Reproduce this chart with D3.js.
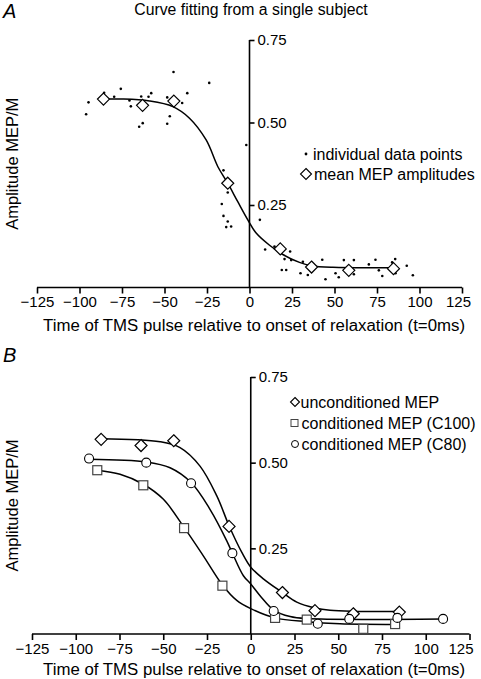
<!DOCTYPE html>
<html><head><meta charset="utf-8">
<script src="https://cdn.jsdelivr.net/npm/d3@7"></script>
<style>
html,body{margin:0;padding:0;background:#fff;}
svg{display:block;font-family:"Liberation Sans",Arial,sans-serif;}
</style></head>
<body>
<svg id="chart" width="481" height="679"></svg>
<script>
// ---------- DATA ----------
const xTicks = [-125,-100,-75,-50,-25,0,25,50,75,100,125];
const yTicks = [0.25,0.50,0.75];

// Panel A: individual data points [time, amplitude]
const pointsA = [
 [-94.7,0.561],[-96.1,0.525],[-85.5,0.590],[-79.6,0.578],[-75.7,0.602],[-70.6,0.567],
 [-69.8,0.549],[-63.7,0.579],[-59.4,0.578],[-57.8,0.589],[-62.8,0.498],[-64.9,0.487],
 [-48.4,0.576],[-48.4,0.496],[-46.9,0.519],[-44.7,0.653],[-39.6,0.559],[-36.6,0.589],
 [-23.7,0.620],[-1.9,0.432],[-15.3,0.355],[-12.8,0.288],[-16.3,0.253],[-15.3,0.217],
 [-12.8,0.200],[-13.7,0.183],[-10.8,0.185],[6.1,0.205],[9.2,0.115],[14.7,0.124],
 [23.9,0.109],[19.0,0.053],[21.6,0.053],[20.6,0.086],[24.5,0.083],[31.4,0.078],
 [30.0,0.043],[34.3,0.038],[42.8,0.084],[44.7,0.025],[50.6,0.043],[52.5,0.031],
 [55.5,0.083],[61.4,0.083],[61.4,0.040],[70.2,0.070],[74.1,0.084],[76.1,0.052],
 [78.1,0.035],[83.9,0.076],[85.7,0.086],[85.9,0.043],[92.5,0.066],[96.1,0.037]
];
// Panel A: mean MEP amplitudes
const meansA = [[-85.9,0.571],[-62.9,0.552],[-44.5,0.565],[-12.8,0.316],[18.1,0.117],[36.5,0.062],[58.4,0.052],[84.7,0.057]];
// Panel A: fitted curve
const curveA = [[-85.7,0.571],[-74.5,0.571],[-58.8,0.565],[-45.1,0.548],[-35.3,0.513],[-25.5,0.447],
 [-18.6,0.366],[-12.8,0.316],[-6.9,0.260],[-1.0,0.205],[3.9,0.165],[11.8,0.128],[19.6,0.100],
 [29.4,0.076],[36.3,0.066],[49.0,0.061],[84.7,0.060]];

// Panel B: series
const unconditioned = [[-85.5,0.568],[-62.7,0.550],[-44.0,0.564],[-12.4,0.314],[18.1,0.121],[36.7,0.068],[58.6,0.059],[84.9,0.064]];
const c100 = [[-87.7,0.478],[-61.4,0.434],[-38.1,0.309],[-16.2,0.141],[13.9,0.047],[32.0,0.042],[64.3,0.015],[82.5,0.029]];
const c80 = [[-92.4,0.512],[-59.7,0.500],[-34.1,0.440],[-10.5,0.236],[13.1,0.067],[38.3,0.030],[56.3,0.044],[83.8,0.047],[109.9,0.044]];
const curveUncond = [[-85.5,0.570],[-51.8,0.561],[-40.4,0.544],[-29.0,0.490],[-19.4,0.403],[-12.4,0.316],
 [-5.1,0.238],[0,0.195],[7.2,0.161],[18.1,0.121],[26.3,0.093],[36.7,0.076],[45.3,0.069],[58.6,0.066],[84.9,0.066]];
const curveC100 = [[-87.7,0.478],[-74.7,0.466],[-61.4,0.437],[-49.9,0.393],[-38.1,0.311],[-27.1,0.228],
 [-16.2,0.143],[-8.0,0.098],[0,0.074],[13.9,0.047],[32.0,0.036],[51.0,0.030],[82.5,0.028]];
const curveC80 = [[-92.4,0.510],[-59.7,0.502],[-46.1,0.485],[-34.1,0.442],[-23.3,0.364],[-13.7,0.272],
 [-10.5,0.236],[-4.2,0.170],[0,0.146],[5.9,0.108],[13.1,0.070],[22.5,0.051],[32.0,0.045],[109.9,0.044]];

const titleText = "Curve fitting from a single subject";
const xLabel = "Time of TMS pulse relative to onset of relaxation (t=0ms)";
const yLabel = "Amplitude MEP/M";
const legendA = ["individual data points","mean MEP amplitudes"];
const legendB = ["unconditioned MEP","conditioned MEP (C100)","conditioned MEP (C80)"];

// ---------- DRAW ----------
const svg = d3.select("#chart");
const FS = 15;     // tick labels
const LFS = 16;    // labels / legends

function panel(g, xr, yr, letter, letterY, xLabY, lastDx) {
  const x = d3.scaleLinear().domain([-125,125]).range(xr);
  const y = d3.scaleLinear().domain([0,0.75]).range(yr);
  const xa = g.append("g").attr("transform",`translate(0,${yr[0]})`)
    .call(d3.axisBottom(x).tickValues(xTicks).tickSize(6).tickPadding(3).tickFormat(d3.format("d")));
  xa.select(".domain").attr("stroke","#000").attr("stroke-width",1.6).attr("d",`M${xr[0]},0H${xr[1]}`);
  xa.selectAll(".tick line").attr("stroke","#000").attr("stroke-width",1.6);
  xa.selectAll(".tick text").attr("font-size",FS).attr("font-family","Liberation Sans, Arial, sans-serif").attr("fill","#000");
  xa.selectAll(".tick text").filter(d=>d===125).attr("dx",lastDx);
  const ya = g.append("g").attr("transform",`translate(${x(0)},0)`)
    .call(d3.axisRight(y).tickValues(yTicks).tickSize(5).tickPadding(3).tickFormat(d3.format(".2f")));
  ya.select(".domain").attr("stroke","#000").attr("stroke-width",1.6).attr("d",`M0,${yr[0]}V${yr[1]}`);
  ya.selectAll(".tick line").attr("stroke","#000").attr("stroke-width",1.6);
  ya.selectAll(".tick text").attr("font-size",FS).attr("font-family","Liberation Sans, Arial, sans-serif").attr("fill","#000");
  g.append("text").attr("x",254).attr("y",xLabY).attr("text-anchor","middle")
    .attr("font-size",LFS).attr("textLength",422).attr("lengthAdjust","spacingAndGlyphs").text(xLabel);
  g.append("text").attr("transform",`translate(18,${(yr[0]+yr[1])/2}) rotate(-90)`).attr("text-anchor","middle")
    .attr("font-size",16.5).text(yLabel);
  g.append("text").attr("x",3).attr("y",letterY).attr("font-size",20).attr("font-style","italic").text(letter);
  return {x,y};
}

const line = (s) => d3.line().x(d=>s.x(d[0])).y(d=>s.y(d[1])).curve(d3.curveCatmullRom.alpha(0.5));
const diamond = (cx,cy,r) => `M${cx},${cy-r}L${cx+r},${cy}L${cx},${cy+r}L${cx-r},${cy}Z`;

// Panel A
const gA = svg.append("g");
svg.append("text").attr("x",251).attr("y",15).attr("text-anchor","middle").attr("font-size",15.8).text(titleText);
const sA = panel(gA,[37,462],[287.5,40],"A",18,331,-4);
gA.append("path").datum(curveA).attr("d",line(sA)).attr("fill","none").attr("stroke","#000").attr("stroke-width",1.5);
gA.selectAll("circle.pt").data(pointsA).join("circle").attr("class","pt")
  .attr("cx",d=>sA.x(d[0])).attr("cy",d=>sA.y(d[1])).attr("r",1.3).attr("fill","#000");
gA.selectAll("path.mean").data(meansA).join("path").attr("class","mean")
  .attr("d",d=>diamond(sA.x(d[0]),sA.y(d[1]),6)).attr("fill","#fff").attr("stroke","#000").attr("stroke-width",1.2);
const lgA = gA.append("g");
lgA.append("circle").attr("cx",306).attr("cy",154).attr("r",1.4).attr("fill","#000");
lgA.append("text").attr("x",313).attr("y",159.5).attr("font-size",LFS).text(legendA[0]);
lgA.append("path").attr("d",diamond(306,174,5.5)).attr("fill","#fff").attr("stroke","#000").attr("stroke-width",1.1);
lgA.append("text").attr("x",314).attr("y",179.5).attr("font-size",LFS).text(legendA[1]);

// Panel B
const gB = svg.append("g");
const sB = panel(gB,[32,469.5],[634,377],"B",362,675,-9);
[curveUncond,curveC100,curveC80].forEach(c=>{
  gB.append("path").datum(c).attr("d",line(sB)).attr("fill","none").attr("stroke","#000").attr("stroke-width",1.5);
});
gB.selectAll("path.unc").data(unconditioned).join("path").attr("class","unc")
  .attr("d",d=>diamond(sB.x(d[0]),sB.y(d[1]),6)).attr("fill","#fff").attr("stroke","#000").attr("stroke-width",1.2);
gB.selectAll("rect.c100").data(c100).join("rect").attr("class","c100")
  .attr("x",d=>sB.x(d[0])-4.5).attr("y",d=>sB.y(d[1])-4.5).attr("width",9).attr("height",9)
  .attr("fill","#fff").attr("stroke","#444").attr("stroke-width",1.2);
gB.selectAll("circle.c80").data(c80).join("circle").attr("class","c80")
  .attr("cx",d=>sB.x(d[0])).attr("cy",d=>sB.y(d[1])).attr("r",4.5)
  .attr("fill","#fff").attr("stroke","#000").attr("stroke-width",1.1);
const lgB = gB.append("g");
lgB.append("path").attr("d",diamond(295,402,4.5)).attr("fill","#fff").attr("stroke","#000").attr("stroke-width",1.1);
lgB.append("text").attr("x",300.5).attr("y",408).attr("font-size",LFS).text(legendB[0]);
lgB.append("rect").attr("x",291).attr("y",419.5).attr("width",7).attr("height",7).attr("fill","#fff").attr("stroke","#444").attr("stroke-width",1);
lgB.append("text").attr("x",301.5).attr("y",429).attr("font-size",LFS).text(legendB[1]);
lgB.append("circle").attr("cx",295).attr("cy",444).attr("r",3.5).attr("fill","#fff").attr("stroke","#000").attr("stroke-width",1);
lgB.append("text").attr("x",301.5).attr("y",450).attr("font-size",LFS).text(legendB[2]);
</script>
</body></html>
